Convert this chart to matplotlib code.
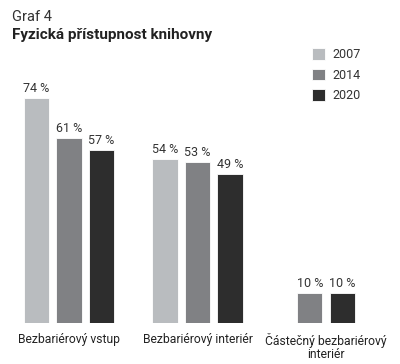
import numpy as np
import matplotlib; matplotlib.use("Agg")
import matplotlib.pyplot as plt

categories = ["Bezbariérový vstup", "Bezbariérový interiér", "Částečný bezbariérový\ninteriér"]
years = ["2007", "2014", "2020"]
values = {
    "2007": [74, 54, None],
    "2014": [61, 53, 10],
    "2020": [57, 49, 10],
}
colors = {"2007": "#b9bcbf", "2014": "#808184", "2020": "#2d2d2d"}

plt.rcParams["font.family"] = ["Roboto", "DejaVu Sans"]

fig = plt.figure(figsize=(4.0, 3.64), dpi=100)
ax = fig.add_axes([0, 41/364, 1, 323/364])

width = 0.195
step = 0.253
handles = {}
for gi, cat in enumerate(categories):
    present = [y for y in years if values[y][gi] is not None]
    offs = (np.arange(len(present)) - (len(present) - 1) / 2) * step
    for y, o in zip(present, offs):
        v = values[y][gi]
        b = ax.bar(gi + o, v, width, color=colors[y], edgecolor="white", linewidth=0.6, label=y)
        handles[y] = b
        ax.bar_label(b, labels=[f"{v} %"], padding=2, fontsize=9, color="#333333")

ax.set_xlim(-69/128.5, (400-69)/128.5)
ax.set_ylim(0, 323/3.04)
ax.set_xticks(range(len(categories)))
ax.set_xticklabels(categories, fontsize=8.7, color="#222222", linespacing=1.0)
ax.tick_params(axis="x", length=0, pad=7)
ax.set_yticks([])
for s in ax.spines.values():
    s.set_visible(False)

fig.text(12/400, 1 - 10/364, "Graf 4", fontsize=10.5, color="#333333", va="top")
fig.text(12/400, 1 - 28/364, "Fyzická přístupnost knihovny", fontsize=11, fontweight="bold",
         color="#222222", va="top")

leg = fig.legend([handles[y] for y in years], years, loc="upper left",
                 bbox_to_anchor=(301/400, 1 - 37/364), frameon=False, fontsize=9,
                 handlelength=1.0, handleheight=1.0, handletextpad=0.65, labelspacing=0.6)
for t in leg.get_texts():
    t.set_color("#333333")

fig.savefig("out.png", dpi=100)
